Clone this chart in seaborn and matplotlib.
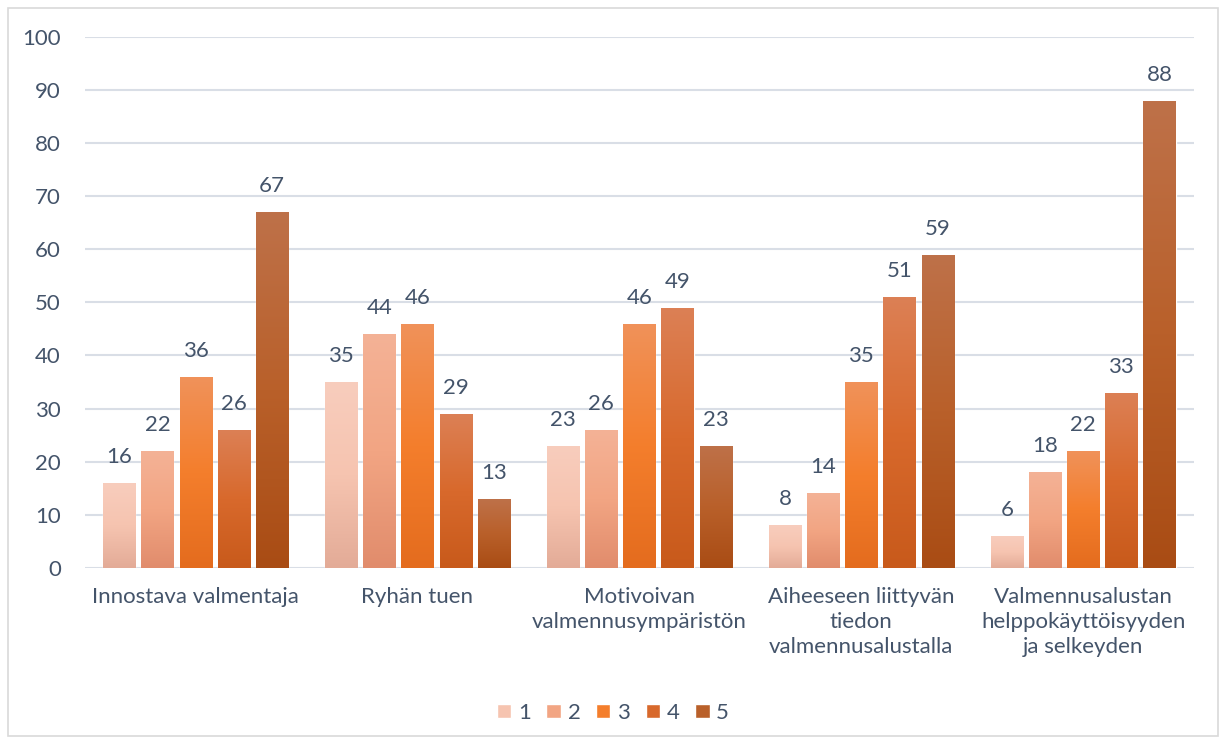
import matplotlib
matplotlib.use("Agg")
import matplotlib.pyplot as plt
import matplotlib.patches as mpatches
from matplotlib.colors import LinearSegmentedColormap
import seaborn as sns
import pandas as pd
import numpy as np

categories = ["Innostava valmentaja", "Ryhän tuen", "Motivoivan\nvalmennusympäristön",
              "Aiheeseen liittyvän\ntiedon\nvalmennusalustalla",
              "Valmennusalustan\nhelppokäyttöisyyden\nja selkeyden"]
series_names = ["1", "2", "3", "4", "5"]
s1 = [16, 35, 23, 8, 6]
s2 = [22, 44, 26, 14, 18]
s3 = [36, 46, 46, 35, 22]
s4 = [26, 29, 49, 51, 33]
s5 = [67, 13, 23, 59, 88]

# top / middle / bottom colours of each series gradient
top_colors = ["#F8CDBD", "#F4B296", "#F0925A", "#DC8055", "#BE7149"]
mid_colors = ["#F6C4B0", "#F2A583", "#F47E2C", "#D8692C", "#B9602A"]
bot_colors = ["#E3AB97", "#E18C6C", "#E46C1E", "#C85A1B", "#A94C14"]

text_color = "#44546A"
grid_color = "#D9DEE6"

rows = []
for name, vals in zip(series_names, [s1, s2, s3, s4, s5]):
    for cat, v in zip(categories, vals):
        rows.append({"category": cat, "series": name, "value": v})
df = pd.DataFrame(rows)

sns.set_style("white")
plt.rcParams["font.family"] = ["Lato", "DejaVu Sans"]

fig = plt.figure(figsize=(12.26, 7.44), dpi=100)
ax = fig.add_axes([0.069, 0.237, 0.905, 0.713])

sns.barplot(data=df, x="category", y="value", hue="series", palette=mid_colors,
            width=0.86, gap=0.16, ax=ax, legend=False, saturation=1)

for i, cont in enumerate(ax.containers):
    cmap = LinearSegmentedColormap.from_list(
        "g%d" % i, [bot_colors[i], mid_colors[i], top_colors[i]])
    grad = np.linspace(0, 1, 256).reshape(-1, 1)
    for bar in cont:
        x0 = bar.get_x()
        w = bar.get_width()
        h = bar.get_height()
        im = ax.imshow(grad, cmap=cmap, origin="lower", aspect="auto",
                       extent=(x0, x0 + w, 0, h), zorder=3)
        im.set_clip_path(bar)
        ax.text(x0 + w / 2, h + 3.0, f"{h:.0f}", ha="center", va="bottom",
                fontsize=16, color=text_color, zorder=4)

ax.set_xlim(-0.5, 4.5)
ax.set_ylim(0, 100)
ax.set_aspect("auto")
ax.set_yticks(range(0, 101, 10))
ax.grid(axis="y", color=grid_color, linewidth=1.5)
ax.set_axisbelow(True)
for sp in ax.spines.values():
    sp.set_visible(False)
ax.tick_params(axis="both", length=0, labelsize=16, labelcolor=text_color)
ax.tick_params(axis="y", pad=17)
ax.tick_params(axis="x", pad=14)
ax.set_xlabel("")
ax.set_ylabel("")
for lab in ax.get_xticklabels():
    lab.set_linespacing(1.3)
    lab.set_va("top")

handles = [mpatches.Patch(facecolor=mid_colors[i], label=series_names[i]) for i in range(5)]
fig.legend(handles=handles, loc="center", bbox_to_anchor=(0.5, 0.042), ncol=5,
           frameon=False, fontsize=16, labelcolor=text_color,
           handlelength=0.65, handleheight=0.65, handletextpad=0.3, columnspacing=0.7)

fig.add_artist(mpatches.Rectangle((8 / 1226, 8 / 744), 1 - 16 / 1226, 1 - 16 / 744,
                                  transform=fig.transFigure, fill=False,
                                  edgecolor="#D9D9D9", linewidth=1.2))

fig.savefig("out.png", dpi=100)
